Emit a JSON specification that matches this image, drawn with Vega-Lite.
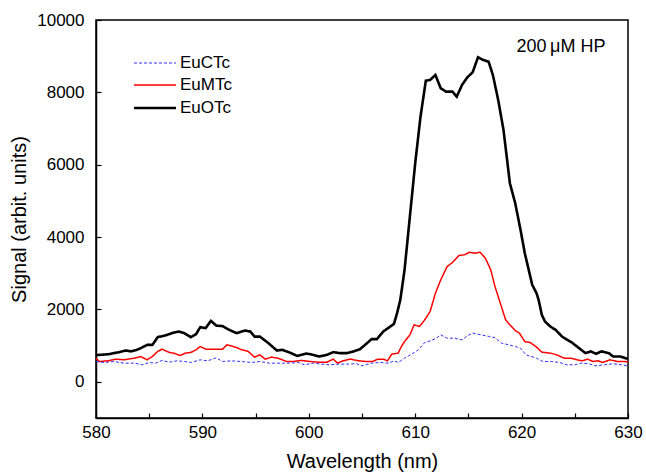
{
"$schema": "https://vega.github.io/schema/vega-lite/v6.json",
"width": 532, "height": 398,
"autosize": {"type": "none"},
"padding": {"left": 96, "top": 20, "right": 18, "bottom": 55},
"background": "white",
"config": {
  "font": "Liberation Sans",
  "view": {"stroke": "black", "strokeWidth": 1.5},
  "axis": {"grid": false, "domainColor": "black", "domainWidth": 1.5, "tickColor": "black", "tickWidth": 1.2, "tickSize": -5,
    "labelFont": "Liberation Sans", "labelFontSize": 17, "labelColor": "black", "labelOverlap": false,
    "titleFont": "Liberation Sans", "titleFontSize": 20, "titleFontWeight": "normal", "titleColor": "black"}
},
"layer": [
{
"data": {"values": [
{"series":"EuOTc","wl":580.0,"s":740},{"series":"EuOTc","wl":580.6,"s":750},{"series":"EuOTc","wl":581.2,"s":765},{"series":"EuOTc","wl":581.8,"s":800},{"series":"EuOTc","wl":582.2,"s":820},{"series":"EuOTc","wl":582.8,"s":865},{"series":"EuOTc","wl":583.3,"s":840},{"series":"EuOTc","wl":583.8,"s":880},{"series":"EuOTc","wl":584.2,"s":930},{"series":"EuOTc","wl":584.8,"s":1020},{"series":"EuOTc","wl":585.3,"s":1020},{"series":"EuOTc","wl":585.8,"s":1235},{"series":"EuOTc","wl":586.5,"s":1280},{"series":"EuOTc","wl":587.3,"s":1360},{"series":"EuOTc","wl":587.8,"s":1390},{"series":"EuOTc","wl":588.3,"s":1345},{"series":"EuOTc","wl":588.9,"s":1235},{"series":"EuOTc","wl":589.4,"s":1317},{"series":"EuOTc","wl":589.8,"s":1510},{"series":"EuOTc","wl":590.3,"s":1483},{"series":"EuOTc","wl":590.8,"s":1685},{"series":"EuOTc","wl":591.3,"s":1555},{"series":"EuOTc","wl":591.9,"s":1540},{"series":"EuOTc","wl":592.5,"s":1440},{"series":"EuOTc","wl":593.2,"s":1345},{"series":"EuOTc","wl":594.0,"s":1417},{"series":"EuOTc","wl":594.5,"s":1390},{"series":"EuOTc","wl":594.9,"s":1250},{"series":"EuOTc","wl":595.4,"s":1250},{"series":"EuOTc","wl":596.2,"s":1070},{"series":"EuOTc","wl":597.0,"s":865},{"series":"EuOTc","wl":597.5,"s":885},{"series":"EuOTc","wl":598.2,"s":810},{"series":"EuOTc","wl":598.9,"s":718},{"series":"EuOTc","wl":599.8,"s":782},{"series":"EuOTc","wl":600.4,"s":746},{"series":"EuOTc","wl":601.0,"s":700},{"series":"EuOTc","wl":601.7,"s":746},{"series":"EuOTc","wl":602.3,"s":820},{"series":"EuOTc","wl":602.9,"s":793},{"series":"EuOTc","wl":603.6,"s":793},{"series":"EuOTc","wl":604.2,"s":840},{"series":"EuOTc","wl":604.8,"s":900},{"series":"EuOTc","wl":605.4,"s":1050},{"series":"EuOTc","wl":605.9,"s":1180},{"series":"EuOTc","wl":606.4,"s":1180},{"series":"EuOTc","wl":607.0,"s":1390},{"series":"EuOTc","wl":608.0,"s":1600},{"series":"EuOTc","wl":608.3,"s":1900},{"series":"EuOTc","wl":608.6,"s":2265},{"series":"EuOTc","wl":609.0,"s":3094},{"series":"EuOTc","wl":609.5,"s":4567},{"series":"EuOTc","wl":610.0,"s":6040},{"series":"EuOTc","wl":610.5,"s":7330},{"series":"EuOTc","wl":611.0,"s":8323},{"series":"EuOTc","wl":611.4,"s":8343},{"series":"EuOTc","wl":611.9,"s":8480},{"series":"EuOTc","wl":612.4,"s":8113},{"series":"EuOTc","wl":612.9,"s":8020},{"series":"EuOTc","wl":613.5,"s":8020},{"series":"EuOTc","wl":613.9,"s":7880},{"series":"EuOTc","wl":614.4,"s":8204},{"series":"EuOTc","wl":614.9,"s":8416},{"series":"EuOTc","wl":615.4,"s":8554},{"series":"EuOTc","wl":615.9,"s":8968},{"series":"EuOTc","wl":616.4,"s":8895},{"series":"EuOTc","wl":616.9,"s":8848},{"series":"EuOTc","wl":617.3,"s":8480},{"series":"EuOTc","wl":617.8,"s":7790},{"series":"EuOTc","wl":618.3,"s":6960},{"series":"EuOTc","wl":618.6,"s":6224},{"series":"EuOTc","wl":618.9,"s":5488},{"series":"EuOTc","wl":619.4,"s":4936},{"series":"EuOTc","wl":619.9,"s":4199},{"series":"EuOTc","wl":620.3,"s":3555},{"series":"EuOTc","wl":621.0,"s":2680},{"series":"EuOTc","wl":621.4,"s":2450},{"series":"EuOTc","wl":621.6,"s":2265},{"series":"EuOTc","wl":621.9,"s":1850},{"series":"EuOTc","wl":622.2,"s":1666},{"series":"EuOTc","wl":622.7,"s":1528},{"series":"EuOTc","wl":623.2,"s":1436},{"series":"EuOTc","wl":623.8,"s":1250},{"series":"EuOTc","wl":624.3,"s":1160},{"series":"EuOTc","wl":624.8,"s":1070},{"series":"EuOTc","wl":625.4,"s":930},{"series":"EuOTc","wl":626.0,"s":793},{"series":"EuOTc","wl":626.5,"s":840},{"series":"EuOTc","wl":627.0,"s":775},{"series":"EuOTc","wl":627.5,"s":840},{"series":"EuOTc","wl":628.2,"s":793},{"series":"EuOTc","wl":628.6,"s":700},{"series":"EuOTc","wl":629.2,"s":700},{"series":"EuOTc","wl":629.9,"s":645},{"series":"EuOTc","wl":630.0,"s":640},
{"series":"EuMTc","wl":580.0,"s":654},{"series":"EuMTc","wl":580.3,"s":562},{"series":"EuMTc","wl":581.1,"s":580},{"series":"EuMTc","wl":581.9,"s":627},{"series":"EuMTc","wl":582.6,"s":608},{"series":"EuMTc","wl":583.6,"s":654},{"series":"EuMTc","wl":584.2,"s":700},{"series":"EuMTc","wl":584.8,"s":608},{"series":"EuMTc","wl":585.3,"s":700},{"series":"EuMTc","wl":585.8,"s":840},{"series":"EuMTc","wl":586.2,"s":903},{"series":"EuMTc","wl":586.9,"s":810},{"series":"EuMTc","wl":587.3,"s":793},{"series":"EuMTc","wl":587.9,"s":727},{"series":"EuMTc","wl":588.4,"s":793},{"series":"EuMTc","wl":588.9,"s":810},{"series":"EuMTc","wl":589.4,"s":884},{"series":"EuMTc","wl":589.8,"s":975},{"series":"EuMTc","wl":590.3,"s":903},{"series":"EuMTc","wl":591.1,"s":903},{"series":"EuMTc","wl":591.9,"s":903},{"series":"EuMTc","wl":592.3,"s":1022},{"series":"EuMTc","wl":592.9,"s":975},{"series":"EuMTc","wl":593.2,"s":948},{"series":"EuMTc","wl":593.7,"s":884},{"series":"EuMTc","wl":594.3,"s":840},{"series":"EuMTc","wl":594.9,"s":682},{"series":"EuMTc","wl":595.4,"s":746},{"series":"EuMTc","wl":595.9,"s":627},{"series":"EuMTc","wl":596.5,"s":682},{"series":"EuMTc","wl":597.1,"s":654},{"series":"EuMTc","wl":597.9,"s":562},{"series":"EuMTc","wl":598.5,"s":562},{"series":"EuMTc","wl":599.3,"s":590},{"series":"EuMTc","wl":600.1,"s":562},{"series":"EuMTc","wl":600.9,"s":543},{"series":"EuMTc","wl":601.7,"s":543},{"series":"EuMTc","wl":602.3,"s":627},{"series":"EuMTc","wl":602.7,"s":516},{"series":"EuMTc","wl":603.2,"s":580},{"series":"EuMTc","wl":603.9,"s":627},{"series":"EuMTc","wl":604.7,"s":580},{"series":"EuMTc","wl":605.4,"s":562},{"series":"EuMTc","wl":606.0,"s":562},{"series":"EuMTc","wl":606.5,"s":627},{"series":"EuMTc","wl":607.0,"s":627},{"series":"EuMTc","wl":607.4,"s":580},{"series":"EuMTc","wl":607.8,"s":765},{"series":"EuMTc","wl":608.4,"s":793},{"series":"EuMTc","wl":608.7,"s":975},{"series":"EuMTc","wl":609.0,"s":1113},{"series":"EuMTc","wl":609.5,"s":1298},{"series":"EuMTc","wl":609.9,"s":1575},{"series":"EuMTc","wl":610.4,"s":1530},{"series":"EuMTc","wl":610.9,"s":1713},{"series":"EuMTc","wl":611.4,"s":1942},{"series":"EuMTc","wl":611.9,"s":2450},{"series":"EuMTc","wl":612.4,"s":2818},{"series":"EuMTc","wl":613.0,"s":3186},{"series":"EuMTc","wl":613.5,"s":3297},{"series":"EuMTc","wl":614.1,"s":3490},{"series":"EuMTc","wl":614.6,"s":3508},{"series":"EuMTc","wl":615.1,"s":3582},{"series":"EuMTc","wl":615.6,"s":3554},{"series":"EuMTc","wl":616.1,"s":3582},{"series":"EuMTc","wl":616.6,"s":3416},{"series":"EuMTc","wl":617.1,"s":3094},{"series":"EuMTc","wl":617.5,"s":2633},{"series":"EuMTc","wl":618.0,"s":2173},{"series":"EuMTc","wl":618.5,"s":1713},{"series":"EuMTc","wl":618.9,"s":1575},{"series":"EuMTc","wl":619.4,"s":1417},{"series":"EuMTc","wl":619.8,"s":1345},{"series":"EuMTc","wl":620.3,"s":1113},{"series":"EuMTc","wl":620.8,"s":1086},{"series":"EuMTc","wl":621.4,"s":960},{"series":"EuMTc","wl":621.9,"s":820},{"series":"EuMTc","wl":622.7,"s":793},{"series":"EuMTc","wl":623.3,"s":746},{"series":"EuMTc","wl":624.0,"s":654},{"series":"EuMTc","wl":624.6,"s":654},{"series":"EuMTc","wl":625.2,"s":608},{"series":"EuMTc","wl":625.7,"s":580},{"series":"EuMTc","wl":626.2,"s":627},{"series":"EuMTc","wl":626.7,"s":562},{"series":"EuMTc","wl":627.2,"s":580},{"series":"EuMTc","wl":627.6,"s":534},{"series":"EuMTc","wl":628.3,"s":608},{"series":"EuMTc","wl":629.0,"s":562},{"series":"EuMTc","wl":629.8,"s":562},{"series":"EuMTc","wl":630.0,"s":540},
{"series":"EuCTc","wl":580.0,"s":562},{"series":"EuCTc","wl":580.8,"s":534},{"series":"EuCTc","wl":581.7,"s":562},{"series":"EuCTc","wl":582.6,"s":516},{"series":"EuCTc","wl":583.6,"s":516},{"series":"EuCTc","wl":584.4,"s":470},{"series":"EuCTc","wl":585.0,"s":534},{"series":"EuCTc","wl":585.6,"s":516},{"series":"EuCTc","wl":586.2,"s":590},{"series":"EuCTc","wl":586.9,"s":543},{"series":"EuCTc","wl":587.6,"s":580},{"series":"EuCTc","wl":588.3,"s":562},{"series":"EuCTc","wl":588.9,"s":534},{"series":"EuCTc","wl":589.8,"s":608},{"series":"EuCTc","wl":590.5,"s":580},{"series":"EuCTc","wl":591.3,"s":663},{"series":"EuCTc","wl":591.9,"s":562},{"series":"EuCTc","wl":592.7,"s":580},{"series":"EuCTc","wl":593.7,"s":562},{"series":"EuCTc","wl":594.6,"s":534},{"series":"EuCTc","wl":595.4,"s":562},{"series":"EuCTc","wl":596.3,"s":516},{"series":"EuCTc","wl":597.3,"s":516},{"series":"EuCTc","wl":598.2,"s":516},{"series":"EuCTc","wl":599.0,"s":534},{"series":"EuCTc","wl":599.6,"s":470},{"series":"EuCTc","wl":600.4,"s":516},{"series":"EuCTc","wl":601.2,"s":490},{"series":"EuCTc","wl":601.9,"s":470},{"series":"EuCTc","wl":602.9,"s":490},{"series":"EuCTc","wl":603.7,"s":490},{"series":"EuCTc","wl":604.5,"s":500},{"series":"EuCTc","wl":605.0,"s":442},{"series":"EuCTc","wl":605.9,"s":516},{"series":"EuCTc","wl":606.7,"s":534},{"series":"EuCTc","wl":607.5,"s":516},{"series":"EuCTc","wl":608.0,"s":580},{"series":"EuCTc","wl":608.4,"s":534},{"series":"EuCTc","wl":609.0,"s":654},{"series":"EuCTc","wl":609.7,"s":773},{"series":"EuCTc","wl":610.3,"s":884},{"series":"EuCTc","wl":610.9,"s":1086},{"series":"EuCTc","wl":611.5,"s":1141},{"series":"EuCTc","wl":612.0,"s":1207},{"series":"EuCTc","wl":612.4,"s":1298},{"series":"EuCTc","wl":613.0,"s":1207},{"series":"EuCTc","wl":613.7,"s":1207},{"series":"EuCTc","wl":614.4,"s":1160},{"series":"EuCTc","wl":614.9,"s":1270},{"series":"EuCTc","wl":615.4,"s":1345},{"series":"EuCTc","wl":616.2,"s":1298},{"series":"EuCTc","wl":617.0,"s":1250},{"series":"EuCTc","wl":617.5,"s":1220},{"series":"EuCTc","wl":618.1,"s":1070},{"series":"EuCTc","wl":618.8,"s":1022},{"series":"EuCTc","wl":619.4,"s":975},{"series":"EuCTc","wl":619.9,"s":930},{"series":"EuCTc","wl":620.4,"s":746},{"series":"EuCTc","wl":620.9,"s":700},{"series":"EuCTc","wl":621.4,"s":654},{"series":"EuCTc","wl":622.0,"s":562},{"series":"EuCTc","wl":622.8,"s":562},{"series":"EuCTc","wl":623.6,"s":534},{"series":"EuCTc","wl":624.2,"s":470},{"series":"EuCTc","wl":625.0,"s":470},{"series":"EuCTc","wl":625.6,"s":516},{"series":"EuCTc","wl":626.3,"s":500},{"series":"EuCTc","wl":626.9,"s":442},{"series":"EuCTc","wl":627.8,"s":470},{"series":"EuCTc","wl":628.6,"s":500},{"series":"EuCTc","wl":629.4,"s":470},{"series":"EuCTc","wl":630.0,"s":442}
]},
"mark": {"type": "line", "interpolate": "linear", "clip": true},
"encoding": {
  "x": {"field": "wl", "type": "quantitative",
    "scale": {"domain": [580, 630], "nice": false, "zero": false},
    "axis": {"values": [580,585,590,595,600,605,610,615,620,625,630],
      "labelExpr": "datum.value % 10 === 0 ? datum.label : ''", "labelOverlap": false, "labelBound": false,
      "format": "d", "title": "Wavelength (nm)", "labelPadding": 11, "titlePadding": 11, "labelFlush": false}},
  "y": {"field": "s", "type": "quantitative",
    "scale": {"domain": [-1000, 10000], "nice": false, "zero": false},
    "axis": {"values": [0,1000,2000,3000,4000,5000,6000,7000,8000,9000,10000],
      "labelExpr": "datum.value % 2000 === 0 ? datum.label : ''",
      "labelOverlap": false, "labelBound": false,
      "format": "d", "title": "Signal (arbit. units)", "labelPadding": 17, "titlePadding": 7, "labelFlush": false}},
  "color": {"field": "series", "type": "nominal",
    "scale": {"domain": ["EuCTc","EuMTc","EuOTc"], "range": ["#3030ff","#ff0000","#000000"]},
    "legend": {"title": null, "orient": "none", "legendX": 47, "legendY": 32, "padding": 0,
      "symbolType": "M-2,0H2", "symbolSize": 441, "labelFont": "Liberation Sans", "labelFontSize": 17,
      "labelColor": "black", "labelOffset": 13, "rowPadding": 2.5}},
  "strokeDash": {"field": "series", "type": "nominal",
    "scale": {"domain": ["EuCTc","EuMTc","EuOTc"], "range": [[3,2],[1,0],[1,0]]}},
  "strokeWidth": {"field": "series", "type": "nominal",
    "scale": {"type": "ordinal", "domain": ["EuCTc","EuMTc","EuOTc"], "range": [1, 1.5, 2.6]}}
}
},
{
"data": {"values": [{"wl": 623.7, "s": 9250, "label": "200\u2009μM HP"}]},
"mark": {"type": "text", "font": "Liberation Sans", "fontSize": 18, "align": "center", "baseline": "middle", "color": "black"},
"encoding": {
  "x": {"field": "wl", "type": "quantitative"},
  "y": {"field": "s", "type": "quantitative"},
  "text": {"field": "label", "type": "nominal"}
}
}
]
}
